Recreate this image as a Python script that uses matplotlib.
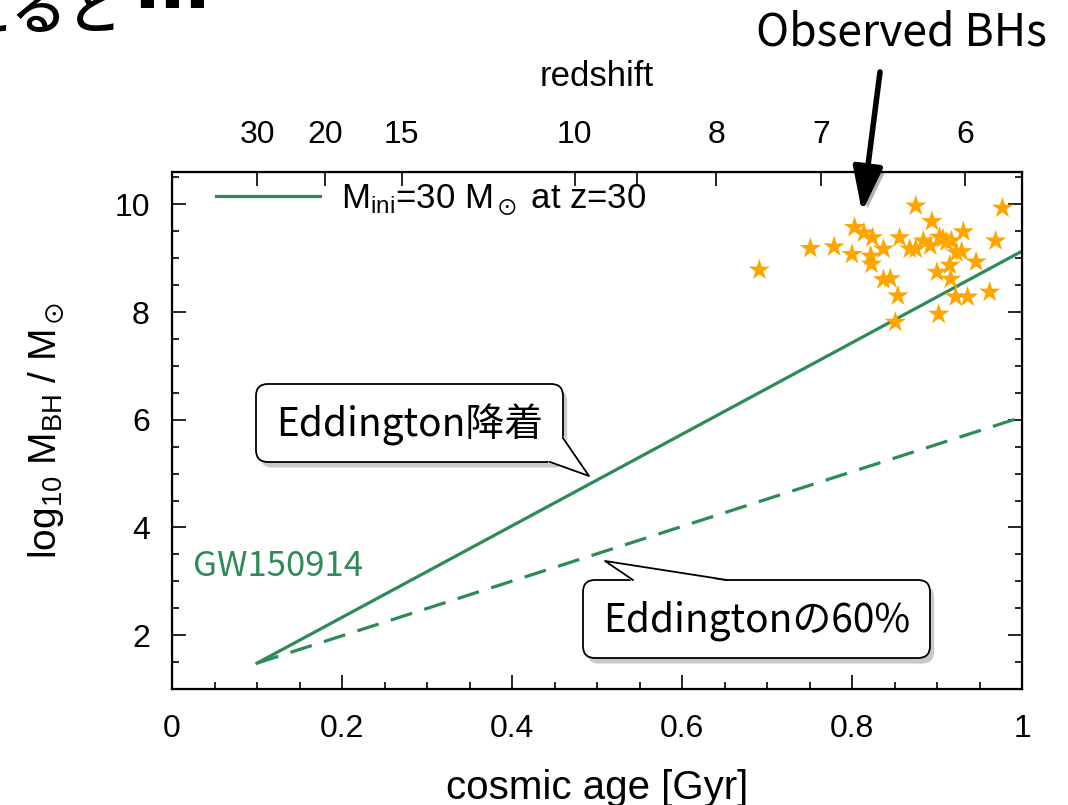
import numpy as np
import matplotlib.pyplot as plt
from matplotlib.patches import FancyBboxPatch, Polygon
from matplotlib.ticker import MultipleLocator, NullLocator
import matplotlib.patheffects as pe

plt.rcParams['font.family'] = ['Liberation Sans', 'DejaVu Sans']
plt.rcParams['mathtext.fontset'] = 'custom'
plt.rcParams['mathtext.rm'] = 'Liberation Sans'
plt.rcParams['mathtext.it'] = 'Liberation Sans:italic'
plt.rcParams['mathtext.fallback'] = 'stixsans'

JP = ['Noto Sans CJK JP', 'DejaVu Sans']
GREEN = '#2e8b57'
ORANGE = '#ffa500'

# BH growth from 30 Msun at z=30 (cosmic age in Gyr, log10 mass)
t_track = [0.1, 1.0]
logm_edd = [1.48, 9.13]
logm_60 = [1.48, 6.05]

# observed high-z quasar BHs
t_obs = [0.691, 0.751, 0.779, 0.800, 0.803, 0.814, 0.824, 0.822, 0.823, 0.837,
         0.837, 0.845, 0.854, 0.851, 0.856, 0.875, 0.894, 0.868, 0.875, 0.884,
         0.892, 0.907, 0.917, 0.931, 0.923, 0.929, 0.946, 0.915, 0.900, 0.916,
         0.922, 0.936, 0.962, 0.902, 0.969, 0.977, 0.911, 0.903]
logm_obs = [8.78, 9.18, 9.21, 9.07, 9.57, 9.47, 9.38, 9.04, 8.89, 9.17,
            8.60, 8.62, 8.30, 7.81, 9.38, 9.97, 9.68, 9.17, 9.17, 9.32,
            9.23, 9.36, 9.32, 9.49, 9.10, 9.12, 8.93, 8.87, 8.74, 8.61,
            8.28, 8.28, 8.37, 7.96, 9.32, 9.93, 9.30, 9.39]

# redshift ticks for the top axis
z_ticks = [30, 20, 15, 10, 9, 8, 7, 6]
z_labels = ['30', '20', '15', '10', '', '8', '7', '6']

# flat LCDM age-redshift relation
H0, Om = 67.7, 0.31
Ol = 1 - Om
t_hubble = 977.8 / H0  # Gyr


def age(z):
    z = np.asarray(z, dtype=float)
    return 2 / (3 * np.sqrt(Ol)) * t_hubble * np.arcsinh(np.sqrt(Ol / Om) * (1 + z) ** -1.5)


W, H = 1068, 805
fig = plt.figure(figsize=(W / 100, H / 100), dpi=100)
ax = fig.add_axes([172 / W, 1 - 689 / H, 850 / W, 517 / H])

ax.plot(t_track, logm_edd, color=GREEN, lw=2.3, label=r'M$_{\rm ini}$=30 M$_\odot$ at z=30', zorder=2)
ax.plot(t_track, logm_60, color=GREEN, lw=2.3, ls=(0, (7, 4)), zorder=2)
ax.scatter(t_obs, logm_obs, marker='*', s=260, color=ORANGE, edgecolors='none', zorder=3)

ax.set_xlim(0, 1)
ax.set_ylim(1.0, 10.6)
ax.xaxis.set_major_locator(MultipleLocator(0.2))
ax.xaxis.set_minor_locator(MultipleLocator(0.05))
ax.yaxis.set_major_locator(MultipleLocator(2))
ax.yaxis.set_minor_locator(MultipleLocator(0.5))
ax.xaxis.set_major_formatter(plt.FuncFormatter(lambda v, p: f'{v:g}'))
ax.tick_params(which='both', direction='in', right=True, width=1.2, labelsize=23)
ax.tick_params(which='major', length=10)
ax.tick_params(which='minor', length=5)
ax.tick_params(axis='x', pad=18)
ax.tick_params(axis='y', pad=16)
for s in ax.spines.values():
    s.set_linewidth(1.6)

ax.set_xlabel('cosmic age [Gyr]', fontsize=29, labelpad=18)
ax.set_ylabel(r'log$_{10}$ M$_{\rm BH}$ / M$_\odot$', fontsize=28, labelpad=34)

ax.legend(loc='center left', bbox_to_anchor=(0.052, 0.945), frameon=False, fontsize=25,
          handlelength=3.0, handletextpad=0.6, borderpad=0, borderaxespad=0)

ax.text(0.025, 3.27, 'GW150914', color=GREEN, fontsize=25, family=JP, va='center')

# redshift axis on top
ax2 = ax.twiny()
ax2.set_xlim(ax.get_xlim())
ax2.set_xticks(age(z_ticks))
ax2.set_xticklabels(z_labels)
ax2.xaxis.set_minor_locator(NullLocator())
ax2.tick_params(axis='x', direction='in', length=10, width=1.2, labelsize=23, pad=16)
ax2.set_xlabel('redshift', fontsize=25, labelpad=24)

# overlay in pixel coordinates for the callouts
ov = fig.add_axes([0, 0, 1, 1], zorder=5)
ov.set_xlim(0, W)
ov.set_ylim(H, 0)
ov.axis('off')

shadow = [pe.SimplePatchShadow(offset=(3, -4), alpha=0.3), pe.Normal()]


def callout(text, x0, y0, x1, y1, base, cover, tip):
    box = FancyBboxPatch((x0, y0), x1 - x0, y1 - y0, boxstyle='round,pad=0,rounding_size=12',
                         fc='white', ec='black', lw=1.3, path_effects=shadow)
    ov.add_patch(box)
    ov.add_patch(Polygon(cover + [tip], closed=True, fc='white', ec='none'))
    ov.plot([base[0][0], tip[0], base[1][0]], [base[0][1], tip[1], base[1][1]],
            color='black', lw=1.3)
    ov.text((x0 + x1) / 2, (y0 + y1) / 2 + 2, text, ha='center', va='center',
            fontsize=28, family=JP)


callout('Eddington降着', 256, 384, 563, 462,
        [(550, 462), (563, 438)], [(548, 462.8), (563.8, 436)], (589, 476))
callout('Eddingtonの60%', 583, 580, 930, 658,
        [(633, 580), (727, 580)], [(632, 581.3), (728, 581.3)], (605, 561))

ov.text(901, 32, 'Observed BHs', ha='center', va='center', fontsize=32, family=JP)
ov.annotate('', xy=(862, 212), xytext=(880, 72),
            arrowprops=dict(arrowstyle='-|>,head_length=0.9,head_width=0.3', lw=4,
                            color='black', mutation_scale=30, shrinkA=0, shrinkB=0,
                            path_effects=shadow))

# slide title running off the top edge
fig.text(-99 / W, 1 - 29 / H, '考えると', fontsize=40, family=JP, weight='medium',
         ha='left', va='baseline')
fig.text(134 / W, 1 - 8 / H, '…', fontsize=54, family=['DejaVu Sans'], weight='bold',
         ha='left', va='baseline')

fig.savefig('out.png', dpi=100)
